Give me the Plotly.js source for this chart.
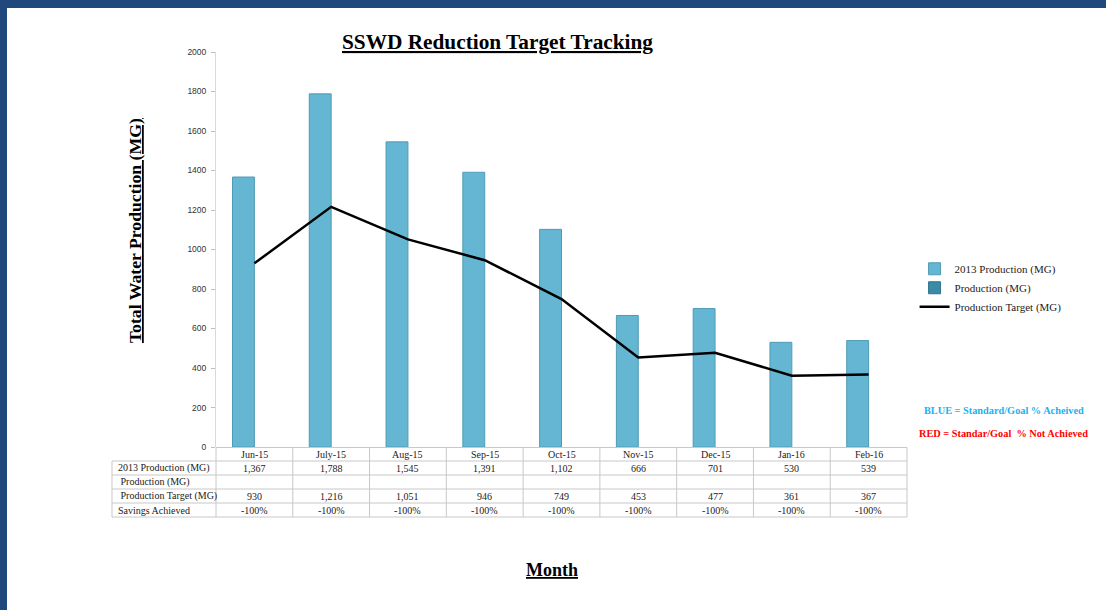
<!DOCTYPE html>
<html>
<head>
<meta charset="utf-8">
<script src="https://cdn.plot.ly/plotly-3.0.1.min.js"></script>
<style>
  html, body { margin: 0; padding: 0; background: #1f497d; }
  #chart { margin-left: 7px; margin-top: 8px; width: 1099px; height: 602px; background: #fff; }
</style>
</head>
<body>
<div id="chart"></div>
<script>
var months = ["Jun-15", "July-15", "Aug-15", "Sep-15", "Oct-15", "Nov-15", "Dec-15", "Jan-16", "Feb-16"];
var prod2013 = [1367, 1788, 1545, 1391, 1102, 666, 701, 530, 539];
var production = [null, null, null, null, null, null, null, null, null];
var target = [930, 1216, 1051, 946, 749, 453, 477, 361, 367];
var savings = ["-100%", "-100%", "-100%", "-100%", "-100%", "-100%", "-100%", "-100%", "-100%"];
var rowLabels = ["2013 Production (MG)", "\u00a0Production (MG)", "\u00a0Production Target (MG)", "Savings Achieved"];

function fmt(v) {
  return v == null ? "" : v.toLocaleString("en-US");
}

var serif = "Liberation Serif, Times New Roman, serif";

var bars2013 = {
  x: months,
  y: prod2013,
  type: "bar",
  name: "2013 Production (MG)",
  marker: { color: "#64b6d3", line: { color: "#4f9bb5", width: 1 } }
};
var barsProd = {
  x: months,
  y: production,
  type: "bar",
  name: "Production (MG)",
  marker: { color: "#3d8aa6", line: { color: "#2f7390", width: 1 } }
};
var targetLine = {
  x: months,
  y: target,
  type: "scatter",
  mode: "lines",
  name: "Production Target (MG)",
  line: { color: "#000", width: 2.5 }
};

// data table under the plot: grid lines + text
var gridColor = "#c8c8c8";
var tableTop = 0.1495;      // paper y of the header's top edge
var headerBottom = 0.1204;
var rowH = 0.0301;          // one body row, paper units
var leftEdge = 0.0025;      // left border of the row-label column
var cellFont = { family: serif, size: 10, color: "#222" };

var shapes = [];
var annotations = [];

// vertical cell borders at the category boundaries
for (var k = 0; k <= months.length; k++) {
  shapes.push({
    type: "line", xref: "x domain", yref: "paper",
    x0: k / months.length, x1: k / months.length, y0: 0, y1: tableTop,
    line: { color: gridColor, width: 1 }
  });
}
// row-label column left border
shapes.push({
  type: "line", xref: "paper", yref: "paper",
  x0: leftEdge, x1: leftEdge, y0: 0, y1: headerBottom,
  line: { color: gridColor, width: 1 }
});
// header top
shapes.push({
  type: "line", xref: "x domain", yref: "paper",
  x0: 0, x1: 1, y0: tableTop, y1: tableTop,
  line: { color: gridColor, width: 1 }
});
// body row borders
for (var r = 0; r <= rowLabels.length; r++) {
  var yy = headerBottom - r * rowH;
  shapes.push({
    type: "line", xref: "paper", yref: "paper",
    x0: leftEdge, x1: 1, y0: yy, y1: yy,
    line: { color: gridColor, width: 1 }
  });
}

// header text (month names)
months.forEach(function (m) {
  annotations.push({
    text: m, xref: "x", yref: "paper", x: m, y: (tableTop + headerBottom) / 2,
    xanchor: "center", yanchor: "middle", showarrow: false, font: cellFont
  });
});

// body text
var rows = [prod2013.map(fmt), production.map(fmt), target.map(fmt), savings];
rows.forEach(function (vals, r) {
  var yc = headerBottom - (r + 0.5) * rowH;
  annotations.push({
    text: rowLabels[r], xref: "paper", yref: "paper", x: 0.0075, y: yc,
    xanchor: "left", yanchor: "middle", showarrow: false, font: cellFont
  });
  vals.forEach(function (v, i) {
    if (v === "") return;
    annotations.push({
      text: v, xref: "x", yref: "paper", x: months[i], y: yc,
      xanchor: "center", yanchor: "middle", showarrow: false, font: cellFont
    });
  });
});

annotations.push(
  {
    text: "<b><u>SSWD Reduction Target Tracking</u></b>",
    xref: "paper", yref: "paper", x: 0.4856, y: 1.0215,
    xanchor: "center", yanchor: "middle", showarrow: false,
    font: { family: serif, size: 21.3, color: "#000" }
  },
  {
    text: "<b><u>Total Water Production (MG)</u></b>",
    xref: "paper", yref: "paper", x: 0.0314, y: 0.615,
    xanchor: "center", yanchor: "middle", textangle: -90, showarrow: false,
    font: { family: serif, size: 17.7, color: "#000" }
  },
  {
    text: "<b><u>Month</u></b>",
    xref: "paper", yref: "paper", x: 0.5546, y: -0.114,
    xanchor: "center", yanchor: "middle", showarrow: false,
    font: { family: serif, size: 18, color: "#000" }
  },
  {
    text: "<b>BLUE = Standard/Goal % Acheived</b>",
    xref: "paper", yref: "paper", x: 1.1217, y: 0.228,
    xanchor: "center", yanchor: "middle", showarrow: false,
    font: { family: serif, size: 10.3, color: "#1ab2f0" }
  },
  {
    text: "<b>RED = Standar/Goal  % Not Achieved</b>",
    xref: "paper", yref: "paper", x: 1.1217, y: 0.1806,
    xanchor: "center", yanchor: "middle", showarrow: false,
    font: { family: serif, size: 10.3, color: "#ff0000" }
  }
);

var layout = {
  width: 1099,
  height: 602,
  margin: { l: 103, r: 199, t: 44, b: 93 },
  paper_bgcolor: "#fff",
  plot_bgcolor: "#fff",
  barmode: "group",
  bargap: 0.43,
  bargroupgap: 0,
  showlegend: true,
  xaxis: {
    domain: [0.133, 1],
    range: [-0.5, 8.5],
    showticklabels: false,
    showline: false,
    ticks: "",
    showgrid: false,
    zeroline: false
  },
  yaxis: {
    domain: [0.1505, 1],
    range: [0, 2000],
    dtick: 200,
    showgrid: false,
    zeroline: false,
    showline: true,
    linecolor: "#d9d9d9",
    linewidth: 1,
    ticks: "outside",
    ticklen: 4,
    tickcolor: "#bfbfbf",
    ticklabelstandoff: 3,
    tickfont: { family: "Liberation Sans, Arial, sans-serif", size: 8.5, color: "#333" }
  },
  legend: {
    x: 1.0095,
    y: 0.565,
    xanchor: "left",
    yanchor: "top",
    bgcolor: "rgba(0,0,0,0)",
    font: { family: serif, size: 11, color: "#222" },
    tracegroupgap: 0
  },
  shapes: shapes,
  annotations: annotations
};

Plotly.newPlot("chart", [bars2013, barsProd, targetLine], layout, { displayModeBar: false });
</script>
</body>
</html>
